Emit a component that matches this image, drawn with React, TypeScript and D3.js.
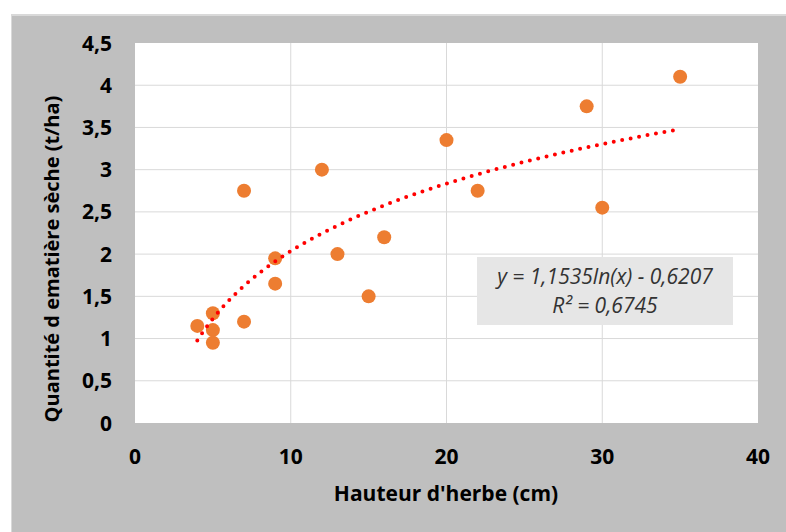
import * as d3 from "d3";

const xHeights = [4, 5, 5, 5, 7, 7, 9, 9, 12, 13, 15, 16, 20, 22, 29, 30, 35];
const yYields = [1.15, 1.3, 1.1, 0.95, 2.75, 1.2, 1.95, 1.65, 3.0, 2.0, 1.5, 2.2, 3.35, 2.75, 3.75, 2.55, 4.1];
const xTicks = [0, 10, 20, 30, 40];
const yTicks = [0, 0.5, 1, 1.5, 2, 2.5, 3, 3.5, 4, 4.5];
const trendA = 1.1535;
const trendB = -0.6207;

const W = 786;
const H = 532;
const fmt = (v: number) => String(v).replace(".", ",");
const font = "'Open Sans', 'DejaVu Sans', sans-serif";

export default function App() {
  const x = d3.scaleLinear().domain([0, 40]).range([135, 758]);
  const y = d3.scaleLinear().domain([0, 4.5]).range([423, 43]);

  const trendX = d3.range(4, 35.001, 0.25);
  const line = d3
    .line<number>()
    .x((d) => x(d))
    .y((d) => y(trendA * Math.log(d) + trendB))
    .curve(d3.curveMonotoneX);

  return (
    <svg width={W} height={H} style={{ position: "absolute", left: 0, top: 0 }}>
      <rect width={W} height={H} fill="#fff" />
      <rect x={11} y={14} width={W - 11} height={H - 14} fill="#d9d9d9" />
      <rect x={12} y={16} width={W - 12} height={H - 16} fill="#bfbfbf" />
      <rect x={135} y={43} width={758 - 135} height={423 - 43} fill="#fff" />

      {xTicks.slice(1, -1).map((t) => (
        <line key={`gx-${t}`} x1={x(t)} x2={x(t)} y1={43} y2={423} stroke="#d9d9d9" strokeWidth={1} />
      ))}
      {yTicks.slice(1, -1).map((t) => (
        <line key={`gy-${t}`} x1={135} x2={758} y1={y(t)} y2={y(t)} stroke="#d9d9d9" strokeWidth={1} />
      ))}

      {xHeights.map((d, i) => (
        <circle key={`pt-${i}`} cx={x(d)} cy={y(yYields[i])} r={7} fill="#ed7d31" />
      ))}

      <path
        d={line(trendX) || ""}
        fill="none"
        stroke="#ff0000"
        strokeWidth={4}
        strokeLinecap="round"
        strokeDasharray="0 8.6"
      />

      <rect x={477} y={257} width={256} height={68} fill="#e6e6e6" />
      <text x={605} y={284} textAnchor="middle" fontFamily={font} fontStyle="italic" fontSize={21} fill="#333">
        y = 1,1535ln(x) - 0,6207
      </text>
      <text x={605} y={313} textAnchor="middle" fontFamily={font} fontStyle="italic" fontSize={21} fill="#333">
        R² = 0,6745
      </text>

      {xTicks.map((t) => (
        <text key={`xt-${t}`} x={x(t)} y={464} textAnchor="middle" fontFamily={font} fontWeight="bold" fontSize={21} fill="#000">
          {fmt(t)}
        </text>
      ))}
      {yTicks.map((t) => (
        <text key={`yt-${t}`} x={112} y={y(t)} dy="0.36em" textAnchor="end" fontFamily={font} fontWeight="bold" fontSize={21} fill="#000">
          {fmt(t)}
        </text>
      ))}

      <text x={446} y={501} textAnchor="middle" fontFamily={font} fontWeight="bold" fontSize={21} fill="#000">
        Hauteur d'herbe (cm)
      </text>
      <text
        transform={`translate(59,259) rotate(-90)`}
        textAnchor="middle"
        fontFamily={font}
        fontWeight="bold"
        fontSize={20}
        fill="#000"
      >
        Quantité d ematière sèche (t/ha)
      </text>
    </svg>
  );
}
